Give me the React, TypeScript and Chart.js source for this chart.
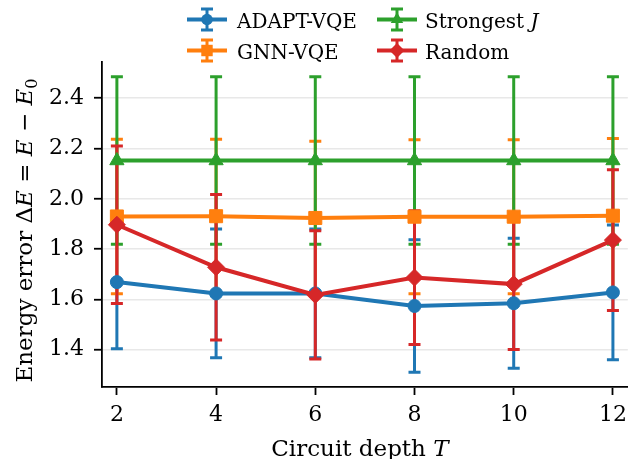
import React, { useEffect, useRef } from 'react';
import { Chart, registerables } from 'chart.js';

Chart.register(...registerables);

const depths = [2, 4, 6, 8, 10, 12];
const xTicks = [2, 4, 6, 8, 10, 12];
const yTicks = [1.4, 1.6, 1.8, 2.0, 2.2, 2.4];

const adaptMean = [1.669, 1.624, 1.624, 1.574, 1.585, 1.628];
const adaptErr = [0.265, 0.256, 0.256, 0.263, 0.258, 0.268];
const gnnMean = [1.930, 1.931, 1.924, 1.929, 1.929, 1.933];
const gnnErr = [0.307, 0.306, 0.305, 0.306, 0.306, 0.307];
const strongMean = [2.152, 2.152, 2.152, 2.152, 2.152, 2.152];
const strongErr = [0.333, 0.333, 0.333, 0.333, 0.333, 0.333];
const randomMean = [1.897, 1.728, 1.618, 1.687, 1.661, 1.836];
const randomErr = [0.313, 0.289, 0.255, 0.266, 0.26, 0.28];

const seriesLabels = ['ADAPT-VQE', 'GNN-VQE', 'Strongest J', 'Random'];
const colors = ['#1f77b4', '#ff7f0e', '#2ca02c', '#d62728'];
const means = [adaptMean, gnnMean, strongMean, randomMean];
const errs = [adaptErr, gnnErr, strongErr, randomErr];
const markers = ['circle', 'rect', 'triangle', 'rectRot'];
const markerRadius = [6.5, 9.2, 8.2, 8.5];

const FONT = '"DejaVu Serif", serif';

type Seg = { t: string; it?: boolean; sub?: boolean };

function segFont(s: Seg, size: number) {
  return `${s.it ? 'italic ' : ''}${s.sub ? size * 0.7 : size}px ${FONT}`;
}

function drawRich(ctx: CanvasRenderingContext2D, segs: Seg[], x: number, y: number, size: number, align: 'center' | 'left') {
  let total = 0;
  const widths = segs.map((s) => {
    ctx.font = segFont(s, size);
    const w = ctx.measureText(s.t).width;
    total += w;
    return w;
  });
  let cx = align === 'center' ? x - total / 2 : x;
  ctx.textAlign = 'left';
  ctx.textBaseline = 'alphabetic';
  segs.forEach((s, i) => {
    ctx.font = segFont(s, size);
    ctx.fillText(s.t, cx, y + (s.sub ? size * 0.22 : 0));
    cx += widths[i];
  });
}

function drawMarker(ctx: CanvasRenderingContext2D, style: string, x: number, y: number, r: number) {
  ctx.beginPath();
  if (style === 'circle') {
    ctx.arc(x, y, r, 0, Math.PI * 2);
  } else if (style === 'rect') {
    const h = r * Math.SQRT1_2;
    ctx.rect(x - h, y - h, 2 * h, 2 * h);
  } else if (style === 'rectRot') {
    ctx.moveTo(x, y - r);
    ctx.lineTo(x + r, y);
    ctx.lineTo(x, y + r);
    ctx.lineTo(x - r, y);
    ctx.closePath();
  } else if (style === 'triangle') {
    let a = 0;
    ctx.moveTo(x + Math.sin(a) * r, y - Math.cos(a) * r);
    a += (2 * Math.PI) / 3;
    ctx.lineTo(x + Math.sin(a) * r, y - Math.cos(a) * r);
    a += (2 * Math.PI) / 3;
    ctx.lineTo(x + Math.sin(a) * r, y - Math.cos(a) * r);
    ctx.closePath();
  }
  ctx.fill();
}

const errorBarPlugin = {
  id: 'errorBars',
  beforeDatasetsDraw(chart: any) {
    const ctx: CanvasRenderingContext2D = chart.ctx;
    const xs = chart.scales.x;
    const ys = chart.scales.y;
    ctx.save();
    ctx.lineCap = 'butt';
    for (let s = 0; s < means.length; s++) {
      ctx.strokeStyle = colors[s];
      ctx.lineWidth = 3;
      for (let j = 0; j < depths.length; j++) {
        const x = xs.getPixelForValue(depths[j]);
        const yt = ys.getPixelForValue(means[s][j] + errs[s][j]);
        const yb = ys.getPixelForValue(means[s][j] - errs[s][j]);
        ctx.beginPath();
        ctx.moveTo(x, yt);
        ctx.lineTo(x, yb);
        ctx.stroke();
        ctx.beginPath();
        ctx.moveTo(x - 6, yt);
        ctx.lineTo(x + 6, yt);
        ctx.moveTo(x - 6, yb);
        ctx.lineTo(x + 6, yb);
        ctx.stroke();
      }
    }
    ctx.restore();
  },
};

const annotationsPlugin = {
  id: 'annotations',
  afterDraw(chart: any) {
    const ctx: CanvasRenderingContext2D = chart.ctx;
    const area = chart.chartArea;
    ctx.save();
    ctx.fillStyle = '#000';
    // x axis title
    drawRich(ctx, [{ t: 'Circuit depth ' }, { t: 'T', it: true }], (area.left + area.right) / 2 - 5, 456, 23, 'center');
    // y axis title
    ctx.save();
    ctx.translate(32, (area.top + area.bottom) / 2 + 6);
    ctx.rotate(-Math.PI / 2);
    drawRich(
      ctx,
      [
        { t: 'Energy error ' },
        { t: 'Δ' },
        { t: 'E', it: true },
        { t: ' = ' },
        { t: 'E', it: true },
        { t: ' − ' },
        { t: 'E', it: true },
        { t: '0', sub: true },
      ],
      0,
      0,
      23,
      'center'
    );
    ctx.restore();

    // legend
    const handleX = [187, 377];
    const textX = [237, 425];
    const rows = [19.5, 50.5];
    for (let s = 0; s < seriesLabels.length; s++) {
      const col = Math.floor(s / 2);
      const row = s % 2;
      const x0 = handleX[col];
      const yc = rows[row];
      const c = colors[s];
      ctx.strokeStyle = c;
      ctx.fillStyle = c;
      ctx.lineWidth = 4;
      ctx.beginPath();
      ctx.moveTo(x0, yc);
      ctx.lineTo(x0 + 40, yc);
      ctx.stroke();
      const xm = x0 + 20;
      ctx.lineWidth = 3;
      ctx.beginPath();
      ctx.moveTo(xm, yc - 10.5);
      ctx.lineTo(xm, yc + 10.5);
      ctx.moveTo(xm - 6, yc - 10.5);
      ctx.lineTo(xm + 6, yc - 10.5);
      ctx.moveTo(xm - 6, yc + 10.5);
      ctx.lineTo(xm + 6, yc + 10.5);
      ctx.stroke();
      drawMarker(ctx, markers[s], xm, yc, markerRadius[s] * 0.88);
      ctx.fillStyle = '#000';
      const label = seriesLabels[s];
      const segs: Seg[] = label === 'Strongest J' ? [{ t: 'Strongest ' }, { t: 'J', it: true }] : [{ t: label }];
      drawRich(ctx, segs, textX[col], yc + 8, 20, 'left');
    }
    ctx.restore();
  },
};

export default function App() {
  const ref = useRef<HTMLCanvasElement>(null);
  useEffect(() => {
    document.body.style.margin = '0';
    const canvas = ref.current;
    if (!canvas) return;
    const orders = [3, 2, 1, 0];
    const chart = new Chart(canvas, {
      type: 'line',
      data: {
        datasets: means.map((m, s) => ({
          label: seriesLabels[s],
          data: depths.map((x, j) => ({ x, y: m[j] })),
          borderColor: colors[s],
          backgroundColor: colors[s],
          borderWidth: 4,
          pointStyle: markers[s] as any,
          pointRadius: markerRadius[s],
          pointBorderWidth: 1,
          pointBackgroundColor: colors[s],
          pointBorderColor: colors[s],
          tension: 0,
          order: orders[s],
        })),
      },
      options: {
        responsive: false,
        animation: false,
        devicePixelRatio: 1,
        layout: { padding: { top: 62, right: 9, left: 0, bottom: 0 } },
        plugins: { legend: { display: false }, tooltip: { enabled: false } },
        scales: {
          x: {
            type: 'linear',
            min: 1.7,
            max: 12.3,
            afterBuildTicks: (s: any) => {
              s.ticks = xTicks.map((v) => ({ value: v }));
            },
            afterFit: (s: any) => {
              s.height = 72;
            },
            ticks: {
              font: { family: FONT, size: 22 },
              color: '#000',
              padding: 7,
              maxRotation: 0,
              autoSkip: false,
              callback: (v: any) => String(v),
            },
            grid: { display: true, drawOnChartArea: false, tickLength: 8, tickWidth: 1.8, tickColor: '#000' },
            border: { display: true, color: '#000', width: 1.8 },
          },
          y: {
            type: 'linear',
            min: 1.252,
            max: 2.544,
            afterBuildTicks: (s: any) => {
              s.ticks = yTicks.map((v) => ({ value: v }));
            },
            afterFit: (s: any) => {
              s.width = 102;
            },
            ticks: {
              font: { family: FONT, size: 22 },
              color: '#000',
              padding: 10,
              autoSkip: false,
              callback: (v: any) => Number(v).toFixed(1),
            },
            grid: { color: '#e8e8e8', lineWidth: 1.5, tickLength: 8, tickWidth: 1.8, tickColor: '#000' },
            border: { display: true, color: '#000', width: 1.8 },
          },
        },
      },
      plugins: [errorBarPlugin, annotationsPlugin],
    } as any);
    return () => chart.destroy();
  }, []);
  return (
    <div style={{ width: 638, height: 459, background: '#fff' }}>
      <canvas ref={ref} width={638} height={459} style={{ display: 'block' }} />
    </div>
  );
}
